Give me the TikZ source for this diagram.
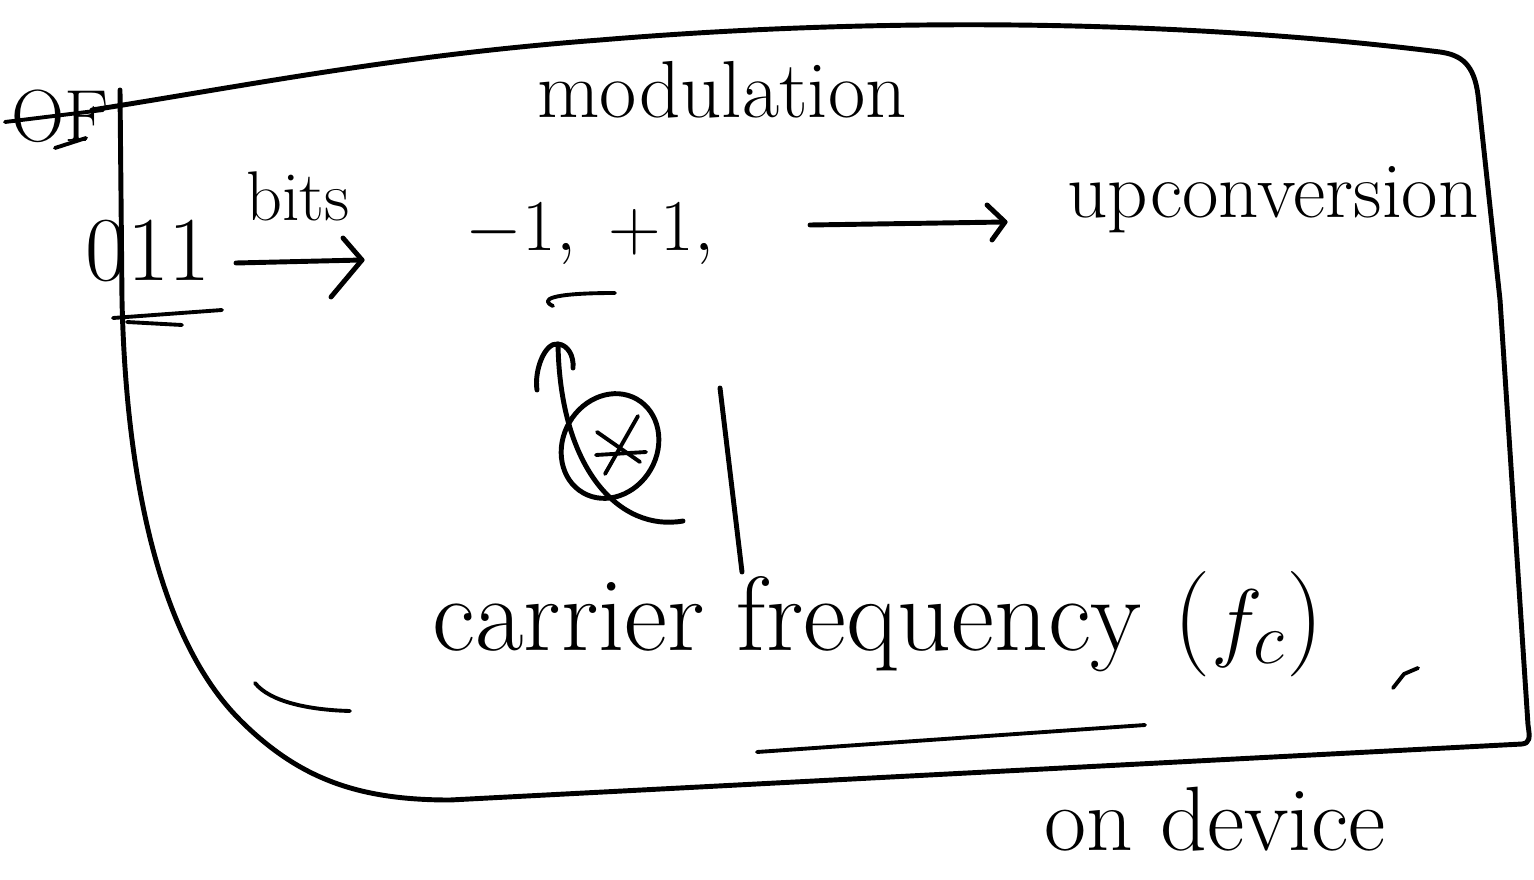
\documentclass[tikz,border=0pt]{standalone}
\usetikzlibrary{calc}
\begin{document}
\begin{tikzpicture}[x=0.01cm,y=-0.01cm,
  pen/.style={draw=black,line width=1.4pt,line cap=round,line join=round},
  thin pen/.style={draw=black,line width=1.1pt,line cap=round,line join=round},
  lbl/.style={inner sep=0pt,anchor=base}]
\useasboundingbox (0,0) rectangle (1534,879);
% outer boundary (device)
\draw[pen] (120,90) -- (122,300) .. controls (126,480) and (160,640) .. (240,720)
  .. controls (300,780) and (360,800) .. (450,800) -- (1522,744)
  .. controls (1530,743) and (1530,738) .. (1528,725)
  -- (1500,300) -- (1478,95)
  .. controls (1474,65) and (1462,55) .. (1440,52)
  .. controls (1200,22) and (900,15) .. (600,40)
  .. controls (400,55) and (250,85) .. (92,110);
% crossed-out OF
\node[lbl,font=\fontsize{21}{23}\selectfont] (of) at (60,142) {OF};
\draw[thin pen] (5,122) -- (103,110);
\draw[thin pen] (55,148) -- (86,138);
% small mark on left edge
\coordinate (la) at (113,318);
\coordinate (lb) at (222,310);
\draw[thin pen] (la) -- (lb);
\draw[thin pen] (127,322) -- (182,325);
% 011 --bits--> -1,+1,
\node[lbl,font=\fontsize{26}{28}\selectfont] (bitsval) at (148,280) {011};
\node[lbl,font=\fontsize{20}{22}\selectfont] (bits) at (298,220) {bits};
\node[lbl,font=\fontsize{22}{24}\selectfont] (pm) at (590,250) {$-1,\;+1,$};
\coordinate (a1s) at (236,263);
\coordinate (a1e) at (362,260);
\draw[pen] (a1s) -- (a1e);
\draw[pen] (343,238) -- (a1e) -- (331,297);
% underline under the comma
\draw[thin pen] (553,306) .. controls (540,300) and (548,293) .. (615,293);
% modulation
\node[lbl,font=\fontsize{23}{25}\selectfont] (mod) at (722,118) {modulation};
% arrow to upconversion
\coordinate (a2s) at (810,225);
\coordinate (a2e) at (1005,222);
\draw[pen] (a2s) -- (a2e);
\draw[pen] (987,205) -- (a2e) -- (992,240);
\node[lbl,font=\fontsize{22.5}{24}\selectfont] (up) at (1273,218) {upconversion};
% mixer circle with cross
\coordinate (mix) at (610,446);
\draw[pen,rotate around={-30:(mix)}] (mix) ellipse [x radius=47, y radius=54];
\draw[thin pen] (597,432) -- (640,462);
\draw[thin pen] (605,474) -- (638,416);
\draw[thin pen] (596,455) -- (646,452);
% curved arrow into the symbols
\coordinate (cs) at (683,521);
\coordinate (ce) at (558,344);
\draw[pen] (cs) .. controls (620,532) and (560,470) .. (ce);
\draw[pen] (537,390) .. controls (534,370) and (545,342) .. (ce)
  .. controls (568,345) and (574,356) .. (573,368);
% vertical stroke
\coordinate (vt) at (720,388);
\coordinate (vb) at (742,572);
\draw[pen] (vt) -- (vb);
% carrier frequency
\node[lbl,font=\fontsize{30}{32}\selectfont] (cf) at (878,650) {carrier frequency ($f_c$)};
% bottom marks
\draw[thin pen] (255,683) .. controls (270,702) and (310,710) .. (350,711);
\coordinate (bl) at (757,752);
\coordinate (br) at (1145,725);
\draw[thin pen] (bl) -- (br);
\draw[thin pen] (1393,688) -- (1404,674) -- (1418,668);
% on device
\node[lbl,font=\fontsize{26}{28}\selectfont] (dev) at (1215,850) {on device};
\end{tikzpicture}
\end{document}
